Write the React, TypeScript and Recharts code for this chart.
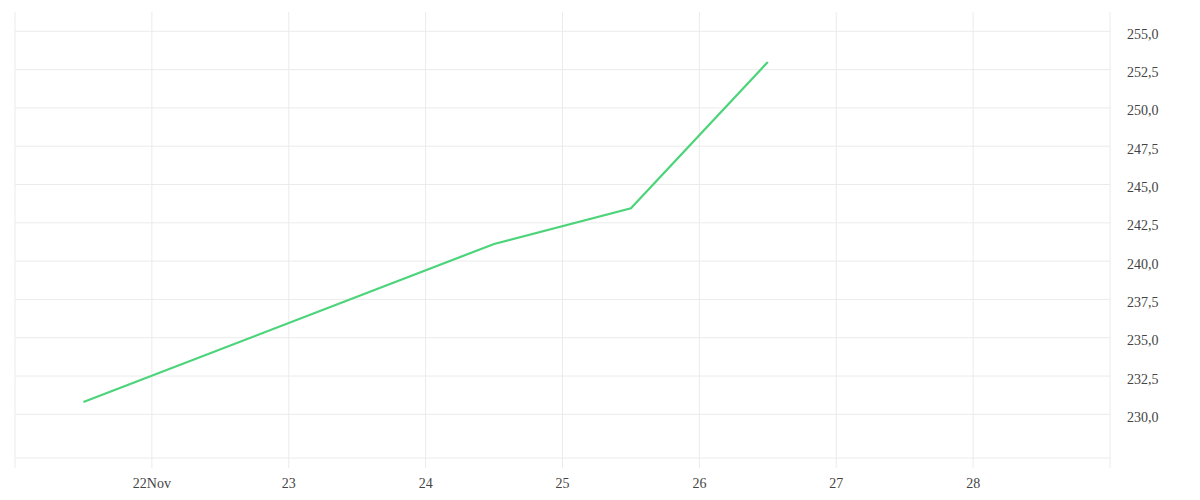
import { LineChart, Line, XAxis, YAxis, CartesianGrid } from 'recharts'

// day of November (noon points), closing values
const days = [21.5, 24.5, 25.5, 26.5]
const values = [230.8, 241.12, 243.45, 253.0]

const xTicks = [21, 22, 23, 24, 25, 26, 27, 28, 29]
const yTicks = [230, 232.5, 235, 237.5, 240, 242.5, 245, 247.5, 250, 252.5, 255]
const yDomain = [227.15, 256.26]

const data = days.map((d, i) => ({ day: d, value: values[i] }))

const GRID = '#ebebeb'
const TEXT = '#444'
const FONT = 'Liberation Serif'

const fmtX = (v: number) => {
  if (v === 21 || v === 29) return ''
  return v === 22 ? '22Nov' : String(v)
}

const fmtY = (v: number) => v.toFixed(1).replace('.', ',')

const XTick = (props: any) => {
  const { x, y, payload } = props
  return (
    <text x={x} y={y + 20} textAnchor="middle" fill={TEXT} fontSize={14} fontFamily={FONT}>
      {fmtX(payload.value)}
    </text>
  )
}

const YTick = (props: any) => {
  const { x, y, payload } = props
  return (
    <text x={x} y={y + 7.5} textAnchor="start" fill={TEXT} fontSize={14} fontFamily={FONT}>
      {fmtY(payload.value)}
    </text>
  )
}

// grid rows only at the labelled y ticks (no line on the top edge)
const rowLines = ({ offset }: any) =>
  yTicks.map(
    (t) => offset.top + ((yDomain[1] - t) / (yDomain[1] - yDomain[0])) * offset.height
  )

export default function App() {
  return (
    <div style={{ position: 'absolute', left: 0, top: 0 }}>
      <LineChart
        width={1200}
        height={500}
        data={data}
        margin={{ top: 12, right: 0, bottom: 0, left: 15 }}
      >
        <CartesianGrid stroke={GRID} strokeWidth={1} horizontalCoordinatesGenerator={rowLines} />
        <XAxis
          dataKey="day"
          type="number"
          domain={[21, 29]}
          ticks={xTicks}
          height={42}
          tickSize={10}
          tickMargin={0}
          axisLine={{ stroke: GRID }}
          tickLine={{ stroke: GRID }}
          tick={<XTick />}
          interval={0}
        />
        <YAxis
          orientation="right"
          type="number"
          domain={yDomain}
          ticks={yTicks}
          width={90}
          tickSize={0}
          tickMargin={17}
          axisLine={false}
          tickLine={false}
          tick={<YTick />}
          interval={0}
        />
        <Line
          dataKey="value"
          stroke="#4cd47a"
          strokeWidth={2.2}
          dot={false}
          activeDot={false}
          isAnimationActive={false}
        />
      </LineChart>
    </div>
  )
}
